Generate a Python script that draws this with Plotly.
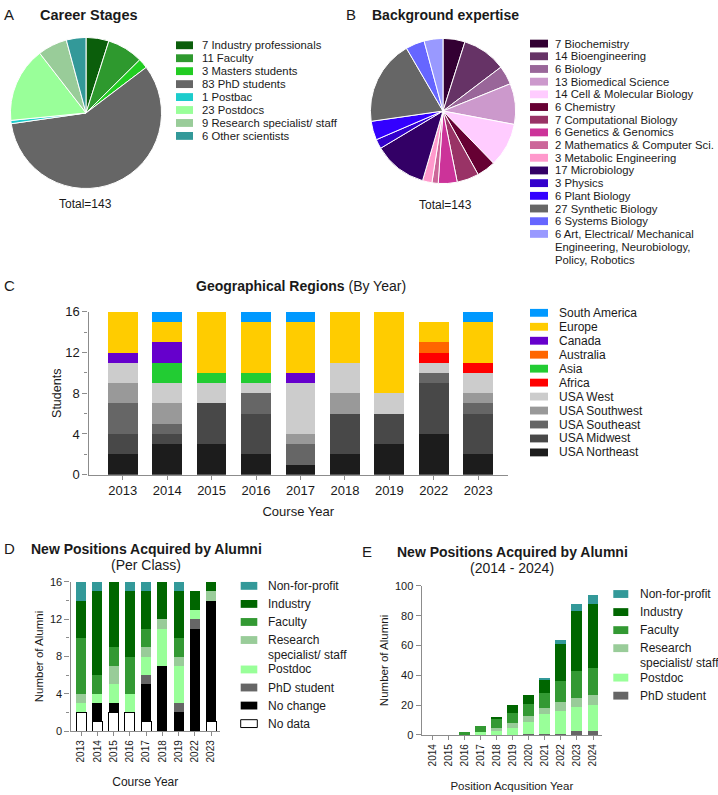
import plotly.graph_objects as go

W, H = 718, 795
FONT = "Liberation Sans, Arial, sans-serif"
INK = "#1a1a1a"
AXIS = "#8c8c8c"

# ── Panel A: career stages ───────────────────────────────────────────────────
career_labels = ["Industry professionals", "Faculty", "Masters students", "PhD students",
                 "Postbac", "Postdocs", "Research specialist/ staff", "Other scientists"]
career_counts = [7, 11, 3, 83, 1, 23, 9, 6]
career_colors = ["#0b5e0b", "#2e992e", "#22cc22", "#666666",
                 "#1ccccc", "#99ff99", "#99cc99", "#339999"]

# ── Panel B: background expertise ────────────────────────────────────────────
field_labels = ["Biochemistry", "Bioengineering", "Biology", "Biomedical Science",
                "Cell & Molecular Biology", "Chemistry", "Computational Biology",
                "Genetics & Genomics", "Mathematics & Computer Sci.", "Metabolic Engineering",
                "Microbiology", "Physics", "Plant Biology", "Synthetic Biology",
                "Systems Biology",
                "Art, Electrical/ Mechanical\nEngineering, Neurobiology,\nPolicy, Robotics"]
field_counts = [7, 14, 6, 13, 14, 6, 7, 6, 2, 3, 17, 3, 6, 27, 6, 6]
field_colors = ["#330033", "#663366", "#996699", "#cc99cc", "#ffccff", "#660033",
                "#993366", "#cc3399", "#cc6699", "#ff99cc", "#330066", "#3300cc",
                "#3300ff", "#666666", "#6666ff", "#9999ff"]

# ── Panel C: geographical regions by course year ─────────────────────────────
course_years = ["2013", "2014", "2015", "2016", "2017", "2018", "2019", "2022", "2023"]
region_names = ["USA Northeast", "USA Midwest", "USA Southeast", "USA Southwest", "USA West",
                "Africa", "Asia", "Australia", "Canada", "Europe", "South America"]
usa_northeast = [2, 3, 3, 2, 1, 2, 3, 4, 2]
usa_midwest = [2, 1, 4, 4, 0, 4, 3, 5, 4]
usa_southeast = [3, 1, 0, 2, 2, 0, 0, 1, 1]
usa_southwest = [2, 2, 0, 0, 1, 2, 0, 0, 1]
usa_west = [2, 2, 2, 1, 5, 3, 2, 1, 2]
africa = [0, 0, 0, 0, 0, 0, 0, 1, 1]
asia = [0, 2, 1, 1, 0, 0, 0, 0, 0]
australia = [0, 0, 0, 0, 0, 0, 0, 1, 0]
canada = [1, 2, 0, 0, 1, 0, 0, 0, 0]
europe = [4, 2, 6, 5, 5, 5, 8, 2, 4]
south_america = [0, 1, 0, 1, 1, 0, 0, 0, 1]
region_values = [usa_northeast, usa_midwest, usa_southeast, usa_southwest, usa_west,
                 africa, asia, australia, canada, europe, south_america]
region_colors = ["#1c1c1c", "#484848", "#666666", "#999999", "#cccccc",
                 "#ff0000", "#22cc33", "#ff6600", "#6600cc", "#ffcc00", "#0099ff"]

# ── Panel D: new positions per class ─────────────────────────────────────────
position_names = ["No data", "No change", "PhD student", "Postdoc",
                  "Research\nspecialist/ staff", "Faculty", "Industry", "Non-for-profit"]
d_no_data = [2, 1, 2, 2, 1, 0, 0, 0, 1]
d_no_change = [0, 2, 1, 0, 4, 7, 2, 11, 13]
d_phd = [0, 0, 0, 0, 1, 0, 1, 1, 0]
d_postdoc = [1, 1, 2, 2, 2, 4, 4, 1, 0]
d_research = [1, 0, 2, 0, 1, 1, 1, 0, 1]
d_faculty = [6, 2, 2, 4, 2, 0, 2, 0, 0]
d_industry = [4, 9, 7, 7, 4, 4, 5, 2, 1]
d_nonprofit = [2, 1, 0, 1, 1, 0, 1, 0, 0]
d_values = [d_no_data, d_no_change, d_phd, d_postdoc, d_research, d_faculty, d_industry,
            d_nonprofit]
position_colors = ["#ffffff", "#000000", "#666666", "#99ff99", "#99cc99", "#339933",
                   "#006600", "#339999"]

# ── Panel E: cumulative positions by acquisition year ────────────────────────
acq_years = ["2014", "2015", "2016", "2017", "2018", "2019", "2020", "2021", "2022", "2023",
             "2024"]
e_phd = [0, 0, 0, 0, 0, 0, 1, 1, 1, 3, 3]
e_postdoc = [0, 0, 0, 2, 3, 5, 8, 13, 15, 16, 17]
e_research = [0, 0, 0, 0, 2, 3, 4, 4, 6, 6, 7]
e_faculty = [0, 0, 2, 4, 6, 7, 8, 10, 14, 18, 18]
e_industry = [0, 0, 0, 0, 1, 5, 6, 9, 25, 40, 43]
e_nonprofit = [0, 0, 0, 0, 0, 0, 0, 1, 3, 5, 6]
e_values = [e_phd, e_postdoc, e_research, e_faculty, e_industry, e_nonprofit]


def px_x(p):
    return p / W


def px_y(p):
    return 1 - p / H


def text(fig, x, y, s, size, anchor="left", angle=0):
    fig.add_annotation(x=px_x(x), y=px_y(y), xref="paper", yref="paper", text=s,
                       showarrow=False, xanchor=anchor, yanchor="middle", textangle=angle,
                       font=dict(family=FONT, size=size, color=INK))


def legend(fig, labels, colors, sq_x, sq_w, txt_x, y0, step, size,
           line_step=13.0, extra=13.0, sq_h=8):
    y = y0
    for label, color in zip(labels, colors):
        lines = label.split("\n")
        outline = color == "#ffffff"
        fig.add_shape(type="rect", xref="paper", yref="paper",
                      x0=px_x(sq_x), x1=px_x(sq_x + sq_w),
                      y0=px_y(y + sq_h / 2), y1=px_y(y - sq_h / 2),
                      fillcolor=color,
                      line=dict(color="#000000", width=1 if outline else 0))
        for k, line in enumerate(lines):
            text(fig, txt_x, y + k * line_step, line, size)
        y += step + (len(lines) - 1) * extra


fig = go.Figure()

# pies
fig.add_trace(go.Pie(labels=career_labels, values=career_counts, sort=False,
                     direction="clockwise", rotation=0, textinfo="none",
                     marker=dict(colors=career_colors, line=dict(color="white", width=1)),
                     domain=dict(x=[px_x(9), px_x(163)], y=[px_y(185), px_y(31)]),
                     showlegend=False))
fig.add_trace(go.Pie(labels=[l.replace("\n", " ") for l in field_labels], values=field_counts,
                     sort=False, direction="clockwise", rotation=0, textinfo="none",
                     marker=dict(colors=field_colors, line=dict(color="white", width=1)),
                     domain=dict(x=[px_x(369), px_x(517)], y=[px_y(180), px_y(32)]),
                     showlegend=False))

# panel C bars
for name, vals, color in zip(region_names, region_values, region_colors):
    fig.add_bar(x=course_years, y=vals, name=name, marker_color=color, width=0.67,
                marker_line_width=0, xaxis="x", yaxis="y", showlegend=False)

# panel D bars
for name, vals, color in zip(position_names, d_values, position_colors):
    fig.add_bar(x=course_years, y=vals, name=name.replace("\n", " "), marker_color=color,
                width=0.62, marker_line=dict(color="#000000",
                                             width=1 if color == "#ffffff" else 0),
                xaxis="x2", yaxis="y2", showlegend=False)

# panel E bars
for name, vals, color in zip(position_names[2:], e_values, position_colors[2:]):
    fig.add_bar(x=acq_years, y=vals, name=name.replace("\n", " "), marker_color=color,
                width=0.68, marker_line_width=0, xaxis="x3", yaxis="y3", showlegend=False)

axis_common = dict(showline=True, linecolor=AXIS, linewidth=1.3, ticks="outside",
                   tickcolor=AXIS, tickwidth=1.3, showgrid=False, zeroline=False,
                   fixedrange=True)

fig.update_layout(
    width=W, height=H, barmode="stack",
    margin=dict(l=0, r=0, t=0, b=0),
    paper_bgcolor="white", plot_bgcolor="white",
    font=dict(family=FONT, color=INK),
    xaxis=dict(domain=[px_x(88.5), px_x(508)], anchor="y", type="category",
               range=[-0.77, 8.67], ticklen=4, tickfont=dict(size=13),
               title=dict(text="Course Year", font=dict(size=13), standoff=9),
               **axis_common),
    yaxis=dict(domain=[px_y(476.7), px_y(310.7)], anchor="x", range=[0, 16],
               tickvals=[0, 4, 8, 12, 16], ticklen=5, tickfont=dict(size=13),
               minor=dict(tickvals=[2, 6, 10, 14], ticklen=3, tickcolor=AXIS, ticks="outside"),
               title=dict(text="Students", font=dict(size=12.5), standoff=0),
               **axis_common),
    xaxis2=dict(domain=[px_x(70.5), px_x(220)], anchor="y2", type="category",
                range=[-0.66, 8.55], ticklen=4, tickangle=-90, tickfont=dict(size=10),
                title=dict(text="Course Year", font=dict(size=12), standoff=16),
                **axis_common),
    yaxis2=dict(domain=[px_y(738), px_y(586)], anchor="x2", range=[0, 16],
                tickvals=[0, 4, 8, 12, 16], ticklen=5, tickfont=dict(size=11),
                minor=dict(tickvals=[2, 6, 10, 14], ticklen=3, tickcolor=AXIS, ticks="outside"),
                title=dict(text="Number of Alumni", font=dict(size=11.5), standoff=3),
                **axis_common),
    xaxis3=dict(domain=[px_x(421.7), px_x(602)], anchor="y3", type="category",
                range=[-0.66, 10.56], ticklen=4, tickangle=-90, tickfont=dict(size=10),
                title=dict(text="Position Acqusition Year", font=dict(size=11.5), standoff=16),
                **axis_common),
    yaxis3=dict(domain=[px_y(742), px_y(590)], anchor="x3", range=[0, 100],
                tickvals=[0, 20, 40, 60, 80, 100], ticklen=5, tickfont=dict(size=11),
                title=dict(text="Number of Alumni", font=dict(size=11.5), standoff=3),
                **axis_common),
)

# panel letters and titles
for letter, x, y in [("A", 2, 8), ("B", 344, 8), ("C", 2, 284), ("D", 2, 552), ("E", 360, 555)]:
    text(fig, x, y, letter, 15)
text(fig, 38, 8, "<b>Career Stages</b>", 14.5)
text(fig, 370, 8, "<b>Background expertise</b>", 14)
text(fig, 301, 284, "<b>Geographical Regions</b> (By Year)", 14, anchor="center")
text(fig, 146, 552, "<b>New Positions Acquired by Alumni</b>", 14, anchor="center")
text(fig, 146, 569, "(Per Class)", 14, anchor="center")
text(fig, 512, 555, "<b>New Positions Acquired by Alumni</b>", 14, anchor="center")
text(fig, 512, 572, "(2014 - 2024)", 14, anchor="center")
text(fig, 85, 201, f"Total={sum(career_counts)}", 12, anchor="center")
text(fig, 445, 202, f"Total={sum(field_counts)}", 12, anchor="center")

# legends
legend(fig, [f"{n} {l}" for n, l in zip(career_counts, career_labels)], career_colors,
       176, 17, 200, 39, 13.2, 11.3)
legend(fig, [f"{n} {l}" for n, l in zip(field_counts, field_labels)], field_colors,
       530, 18, 553, 37.3, 12.93, 11.3, line_step=13.1, extra=13.1)
legend(fig, region_names[::-1], region_colors[::-1], 530, 18, 557, 311.7, 14.23, 12)
legend(fig, position_names[::-1], position_colors[::-1], 240.7, 16.6, 265.5, 590, 18.4, 12,
       line_step=15.5, extra=11.6)
legend(fig, position_names[:1:-1], position_colors[:1:-1], 613.3, 15, 637.5, 598.3, 18.4, 12,
       line_step=15.5, extra=11.6)

# drop the browser's default body margin so the figure sits at the page origin
fig.write_html("out.html", config={"displayModeBar": False},
               post_script="document.body.style.margin = '0';")
